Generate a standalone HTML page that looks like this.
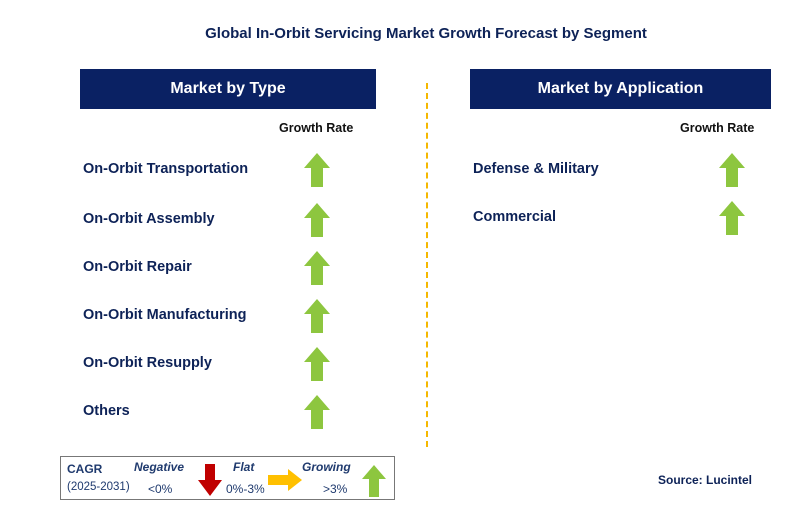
<!DOCTYPE html>
<html><head><meta charset="utf-8"><style>
body{margin:0;width:800px;height:517px;background:#fff;position:relative;font-family:"Liberation Sans",Arial,sans-serif;overflow:hidden}
.a{position:absolute}
.t{font-weight:bold;color:#0d2257;font-size:14.5px}
.hdr{position:absolute;background:#0a2163;color:#fff;font-weight:bold;font-size:16px;text-align:center;line-height:40px;height:40px}
.gr{font-size:12.5px;font-weight:bold;color:#111}
</style></head><body>
<div class="a" style="left:0;width:852px;top:25px;text-align:center;font-weight:bold;font-size:15px;color:#0d2257">Global In-Orbit Servicing Market Growth Forecast by Segment</div>
<div class="hdr" style="left:80px;top:69px;width:296px">Market by Type</div>
<div class="hdr" style="left:470px;top:69px;width:301px">Market by Application</div>
<div class="a gr" style="left:279px;top:121px">Growth Rate</div>
<div class="a gr" style="left:680px;top:121px">Growth Rate</div>
<div class="a" style="left:426px;top:83px;height:364px;border-left:2px dashed #f5b800"></div>
<div id="c"></div>
<div class="a" style="left:60px;top:456px;width:335px;height:44px;border:1px solid #777;box-sizing:border-box"></div>
<div class="a" style="left:67px;top:462px;font-weight:bold;font-size:12px;color:#1f3a6e">CAGR</div>
<div class="a" style="left:67px;top:481px;font-size:11.5px;color:#1f3a6e">(2025-2031)</div>
<div class="a" style="left:134px;top:460px;font-weight:bold;font-style:italic;font-size:12px;color:#1f3a6e">Negative</div>
<div class="a" style="left:148px;top:482px;font-size:12px;color:#1f3a6e">&lt;0%</div>
<svg class="a" style="left:198px;top:464px" width="24" height="32"><polygon points="7,0 17,0 17,16 24,16 12,32 0,16 7,16" fill="#c00000"/></svg>
<div class="a" style="left:233px;top:460px;font-weight:bold;font-style:italic;font-size:12px;color:#1f3a6e">Flat</div>
<div class="a" style="left:226px;top:482px;font-size:12px;color:#1f3a6e">0%-3%</div>
<svg class="a" style="left:268px;top:469px" width="34" height="22"><polygon points="0,6 20,6 20,0 34,11 20,22 20,16 0,16" fill="#ffc000"/></svg>
<div class="a" style="left:302px;top:460px;font-weight:bold;font-style:italic;font-size:12px;color:#1f3a6e">Growing</div>
<div class="a" style="left:323px;top:482px;font-size:12px;color:#1f3a6e">&gt;3%</div>
<svg class="a" style="left:362px;top:465px" width="24" height="32"><polygon points="12,0 24,14 17,14 17,32 7,32 7,14 0,14" fill="#8dc63f"/></svg>
<div class="a" style="left:658px;top:473px;font-weight:bold;font-size:12px;color:#0d2257">Source: Lucintel</div>
<script>
const typeItems=["On-Orbit Transportation","On-Orbit Assembly","On-Orbit Repair","On-Orbit Manufacturing","On-Orbit Resupply","Others"];
const typeY=[168,218,266,314,362,410];
const appItems=["Defense & Military","Commercial"];
const appY=[168,216];
const c=document.getElementById('c');
function arrow(x,y,n){const s=document.createElementNS('http://www.w3.org/2000/svg','svg');
s.setAttribute('class','a');s.setAttribute('width','26');s.setAttribute('height','34');
s.style.left=(x-13)+'px';s.style.top=(y-15)+'px';


s.innerHTML='<polygon points="13,0 26,15 19,15 19,34 7,34 7,15 0,15" fill="#8dc63f"/>';c.appendChild(s);}
function label(x,y,t,n){const d=document.createElement('div');d.className='a t';d.style.left=x+'px';d.style.top=(y-7)+'px';d.textContent=t;


c.appendChild(d);}
typeItems.forEach((t,i)=>{label(83,typeY[i],t,'type-label');arrow(317,typeY[i],'type-growth-arrow');});
appItems.forEach((t,i)=>{label(473,appY[i],t,'application-label');arrow(732,appY[i],'application-growth-arrow');});
</script>
</body></html>
